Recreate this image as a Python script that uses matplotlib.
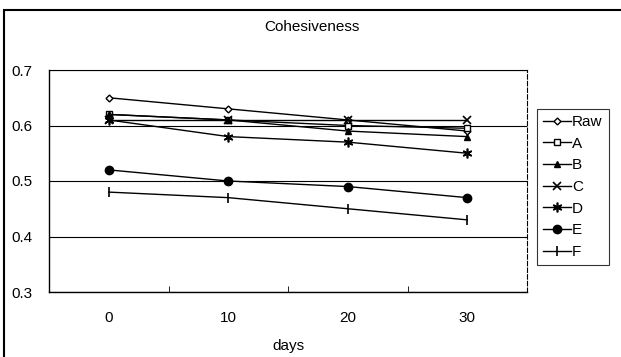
import matplotlib
matplotlib.use("Agg")
import matplotlib.pyplot as plt
from matplotlib.patches import Rectangle

plt.rcParams['font.family'] = ['Liberation Sans', 'DejaVu Sans']

days = [0, 10, 20, 30]
series_names = ["Raw", "A", "B", "C", "D", "E", "F"]
raw = [0.65, 0.63, 0.61, 0.59]
a = [0.62, 0.61, 0.60, 0.595]
b = [0.62, 0.61, 0.59, 0.58]
c = [0.61, 0.61, 0.61, 0.61]
d = [0.61, 0.58, 0.57, 0.55]
e = [0.52, 0.50, 0.49, 0.47]
f = [0.48, 0.47, 0.45, 0.43]
yticks = [0.3, 0.4, 0.5, 0.6, 0.7]

fig = plt.figure(figsize=(6.21, 3.57), dpi=100)
ax = fig.add_axes([49/621, 1-292/357, (527-49)/621, (292-70)/357])

styles = [
    dict(marker='D', ms=3.5, mfc='white'),
    dict(marker='s', ms=4, mfc='white'),
    dict(marker='^', ms=5, mfc='black'),
    dict(marker='x', ms=6, mew=1.2),
    dict(marker=(6, 2, 0), ms=7, mew=1.2),
    dict(marker='o', ms=6, mfc='black'),
    dict(marker='|', ms=7, mew=1.2),
]
data = [raw, a, b, c, d, e, f]
for name, vals, st in zip(series_names, data, styles):
    ax.plot(days, vals, color='black', lw=1.0, mec='black', label=name, **st)

ax.set_xlim(-5, 35)
ax.set_ylim(0.3, 0.7)
ax.set_yticks(yticks)
ax.set_yticklabels([f"{v:.1f}" for v in yticks])
ax.set_xticks(days)
ax.set_xticks([5, 15, 25], minor=True)
ax.tick_params(axis='x', which='major', length=0, pad=14, labelsize=11)
ax.tick_params(axis='x', which='minor', length=4, direction='in')
ax.tick_params(axis='y', length=0, pad=12, labelsize=11)
ax.yaxis.grid(True, color='black', lw=0.8)
ax.spines['right'].set_linestyle((0, (4, 2)))
ax.spines['right'].set_linewidth(0.8)
ax.spines['top'].set_linewidth(0.8)
for s in ['left', 'bottom']:
    ax.spines[s].set_linewidth(1.0)
ax.set_xlabel("days", fontsize=11, labelpad=10)
fig.text(312/621, 1-27/357, "Cohesiveness", ha='center', va='center', fontsize=11)

leg = ax.legend(loc='upper left', bbox_to_anchor=(537/621, 1-109/357), bbox_transform=fig.transFigure,
                frameon=True, fancybox=False, edgecolor='black', fontsize=11,
                handlelength=1.8, handletextpad=0.1, labelspacing=0.5, borderpad=0.4,
                borderaxespad=0)
leg.get_frame().set_linewidth(0.8)

fig.patches.append(Rectangle((4/621, -0.1), 1.2, 1 - 10/357 + 0.1, transform=fig.transFigure,
                             fill=False, edgecolor='black', lw=1.5))
fig.savefig("out.png", dpi=100)
